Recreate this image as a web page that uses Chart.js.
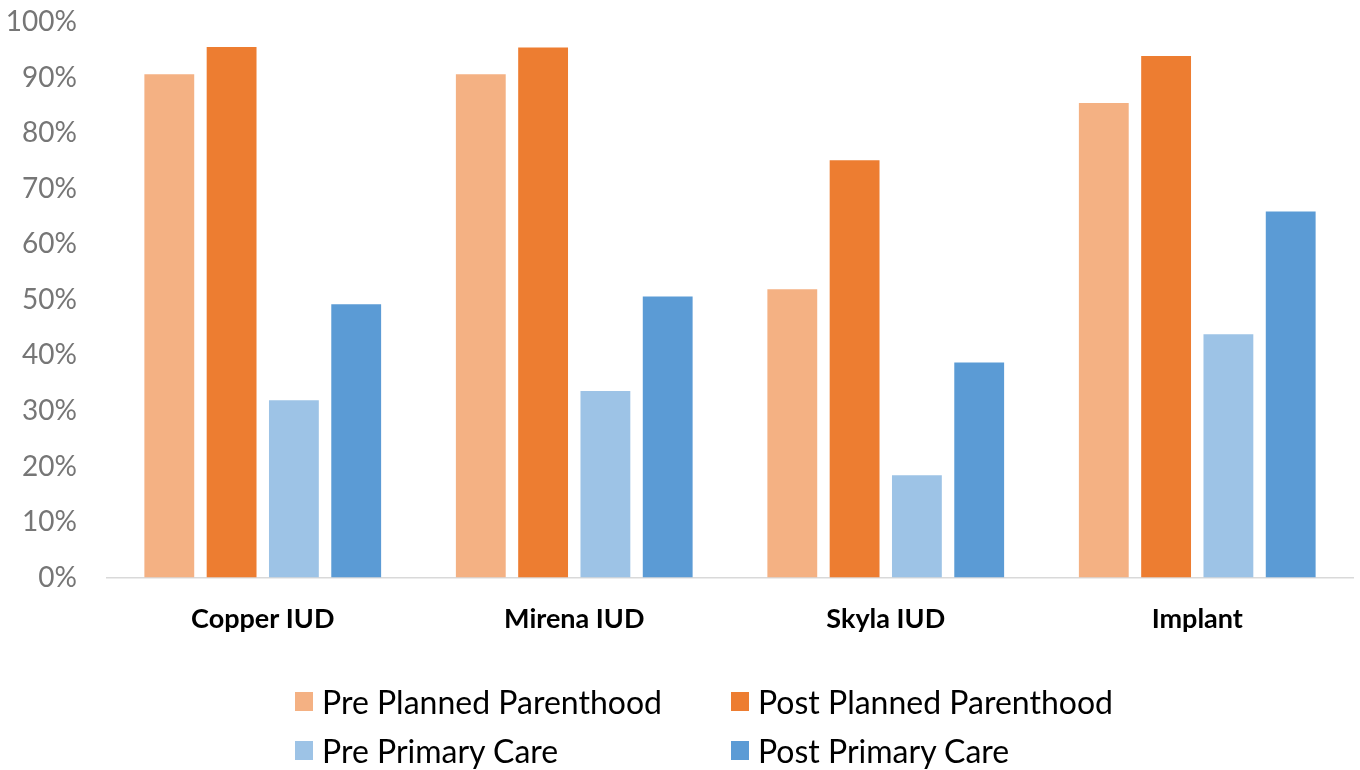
<!DOCTYPE html>
<html>
<head>
<meta charset="utf-8">
<script src="https://cdn.jsdelivr.net/npm/chart.js@4/dist/chart.umd.min.js"></script>
<style>
  html, body { margin: 0; padding: 0; background: #fff; }
  #wrap { position: relative; width: 1360px; height: 770px; }
  #legend {
    position: absolute; left: 295px; top: 682px;
    display: grid; grid-template-columns: 436px 436px; row-gap: 10px;
    font-family: Lato, sans-serif; font-size: 32px; color: #000;
  }
  .item { display: flex; align-items: center; height: 39px; }
  .box { width: 18px; height: 19px; margin-right: 9px; }
</style>
</head>
<body>
<div id="wrap">
  <canvas id="chart" width="1360" height="770"></canvas>
  <div id="legend"></div>
</div>
<script>
const categories = ['Copper IUD', 'Mirena IUD', 'Skyla IUD', 'Implant'];
const prePlanned = [90.6, 90.6, 51.9, 85.4];
const postPlanned = [95.5, 95.4, 75.1, 93.9];
const prePrimary = [31.9, 33.6, 18.4, 43.8];
const postPrimary = [49.2, 50.6, 38.7, 65.9];
const seriesNames = ['Pre Planned Parenthood', 'Post Planned Parenthood', 'Pre Primary Care', 'Post Primary Care'];
const colors = ['#F4B183', '#ED7D31', '#9DC3E6', '#5B9BD5'];

const values = [prePlanned, postPlanned, prePrimary, postPrimary];

const chart = new Chart(document.getElementById('chart'), {
  type: 'bar',
  data: {
    labels: categories,
    datasets: values.map((v, i) => ({
      label: seriesNames[i],
      data: v,
      backgroundColor: colors[i],
      categoryPercentage: 0.8,
      barPercentage: 0.8,
    })),
  },
  options: {
    responsive: false,
    animation: false,
    layout: { padding: { left: 0, right: 7, top: 22, bottom: 110 } },
    plugins: { legend: { display: false }, tooltip: { enabled: false } },
    scales: {
      x: {
        grid: { display: false, drawTicks: false },
        border: { color: '#D9D9D9', width: 1.5 },
        ticks: { color: '#000', padding: 25, font: { family: 'Lato', size: 27, weight: 'bold' } },
      },
      y: {
        min: 0,
        max: 100,
        grid: { display: false, drawTicks: false },
        border: { display: false },
        // fixed axis width; the tick padding should not push the plot down
        afterFit: (s) => { s.width = 107; s.paddingTop = 0; s.paddingBottom = 0; },
        ticks: {
          stepSize: 10,
          padding: 30,
          color: '#767676',
          font: { family: 'Lato', size: 28 },
          callback: (v) => v + '%',
        },
      },
    },
  },
});

// legend in two columns, like the original
const legendEl = document.getElementById('legend');
chart.data.datasets.forEach((d) => {
  const item = document.createElement('div');
  item.className = 'item';
  item.innerHTML = `<span class="box" style="background:${d.backgroundColor}"></span><span>${d.label}</span>`;
  legendEl.appendChild(item);
});
</script>
</body>
</html>
